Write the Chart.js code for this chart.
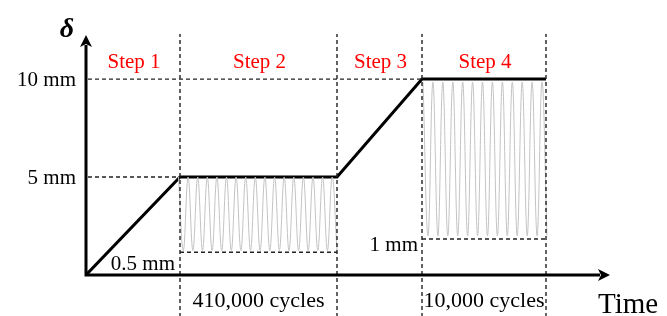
<!DOCTYPE html>
<html>
<head>
<meta charset="utf-8">
<script src="https://cdn.jsdelivr.net/npm/chart.js@4.4.1/dist/chart.umd.min.js"></script>
<style>
    body { margin: 0; background: #fff; }
    #box { width: 667px; height: 316px; }
</style>
</head>
<body>
<div id="box"><canvas id="myChart"></canvas></div>
<script>
// tempo em unidades arbitrarias, deslocamento em mm (esquema, fora de escala)
let stepLabels = ["Step 1", "Step 2", "Step 3", "Step 4"];
let stepEnds = [94, 251, 336, 460];
let pathTime = [0, 94, 251, 336, 460];
let pathDisp = [0, 5, 5, 10, 10];
let yTicks = [5, 10];
let yTickLabels = ["5 mm", "10 mm"];
let cycleLabels = ["410,000 cycles", "10,000 cycles"];
let lowLabels = ["0.5 mm", "1 mm"];
let lowLevels = [1.16, 1.84];

let cyc1Time = [92.5, 97.3, 102.1, 106.9, 111.7, 116.5, 121.3, 126.1, 130.9, 135.7,
    140.5, 145.3, 150.1, 154.9, 159.7, 164.5, 169.3, 174.1, 178.9, 183.8,
    188.6, 193.4, 198.2, 203.0, 207.8, 212.6, 217.4, 222.2, 227.0, 231.8,
    236.6, 241.4, 246.2, 251.0];
let cyc1Disp = [5, 1.25, 5, 1.25, 5, 1.25, 5, 1.25, 5, 1.25,
    5, 1.25, 5, 1.25, 5, 1.25, 5, 1.25, 5, 1.25,
    5, 1.25, 5, 1.25, 5, 1.25, 5, 1.25, 5, 1.25,
    5, 1.25, 5, 1.25];

let cyc2Time = [337.0, 342.0, 346.9, 351.9, 356.8, 361.8, 366.8, 371.7, 376.7, 381.6,
    386.6, 391.6, 396.5, 401.5, 406.4, 411.4, 416.4, 421.3, 426.3, 431.2,
    436.2, 441.2, 446.1, 451.1, 456.0, 461.0];
let cyc2Disp = [9.85, 2.0, 9.85, 2.0, 9.85, 2.0, 9.85, 2.0, 9.85, 2.0,
    9.85, 2.0, 9.85, 2.0, 9.85, 2.0, 9.85, 2.0, 9.85, 2.0,
    9.85, 2.0, 9.85, 2.0, 9.85, 2.0];

const serif = "'Liberation Serif', 'Times New Roman', serif";

function pontos(xs, ys) {
    let lista = [];
    for (let i = 0; i < xs.length; i++) {
        lista.push({ x: xs[i], y: ys[i] });
    }
    return lista;
}

function tracejada(x1, y1, x2, y2) {
    return {
        data: [{ x: x1, y: y1 }, { x: x2, y: y2 }],
        borderColor: "#222",
        borderWidth: 1.4,
        borderDash: [4, 3],
        pointRadius: 0,
        tension: 0,
        clip: false,
    };
}

let datasets = [];
// linhas guia
datasets.push(tracejada(2, 10, stepEnds[2], 10));
datasets.push(tracejada(2, 5, stepEnds[0], 5));
datasets.push(tracejada(stepEnds[0], lowLevels[0], stepEnds[1], lowLevels[0]));
datasets.push(tracejada(stepEnds[2], lowLevels[1], stepEnds[3], lowLevels[1]));
for (let i = 0; i < stepEnds.length; i++) {
    datasets.push(tracejada(stepEnds[i], -2.15, stepEnds[i], 12.3));
}
// ciclos
datasets.push({
    data: pontos(cyc1Time, cyc1Disp),
    borderColor: "rgb(195,195,195)",
    borderWidth: 1,
    pointRadius: 0,
    tension: 0.4,
});
datasets.push({
    data: pontos(cyc2Time, cyc2Disp),
    borderColor: "rgb(195,195,195)",
    borderWidth: 1,
    pointRadius: 0,
    tension: 0.4,
});
// trajetoria principal
datasets.push({
    data: pontos(pathTime, pathDisp),
    borderColor: "#000",
    borderWidth: 3,
    pointRadius: 0,
    tension: 0,
});

function seta(ctx, tx, ty, dx, dy) {
    // ponta em (tx, ty), direcao (dx, dy)
    let px = -dy, py = dx;
    ctx.beginPath();
    ctx.moveTo(tx, ty);
    ctx.lineTo(tx - dx * 12 + px * 6, ty - dy * 12 + py * 6);
    ctx.lineTo(tx - dx * 9, ty - dy * 9);
    ctx.lineTo(tx - dx * 12 - px * 6, ty - dy * 12 - py * 6);
    ctx.closePath();
    ctx.fill();
}

const desenho = {
    id: "desenho",
    afterDatasetsDraw(chart) {
        const ctx = chart.ctx;
        const xs = chart.scales.x;
        const ys = chart.scales.y;
        const area = chart.chartArea;
        let x0 = xs.getPixelForValue(0);
        let y0 = ys.getPixelForValue(0);

        ctx.save();
        ctx.strokeStyle = "#000";
        ctx.fillStyle = "#000";
        ctx.lineWidth = 3;
        ctx.beginPath();
        ctx.moveTo(x0, y0 + 1.5);
        ctx.lineTo(x0, area.top + 10);
        ctx.moveTo(x0 - 1.5, y0);
        ctx.lineTo(area.right - 10, y0);
        ctx.stroke();
        seta(ctx, x0, area.top, 0, -1);
        seta(ctx, area.right, y0, 1, 0);

        // rotulos do eixo y
        ctx.font = "21px " + serif;
        ctx.textAlign = "right";
        ctx.textBaseline = "alphabetic";
        for (let i = 0; i < yTicks.length; i++) {
            ctx.fillText(yTickLabels[i], x0 - 10, ys.getPixelForValue(yTicks[i]) + 7);
        }
        ctx.fillText(lowLabels[0], xs.getPixelForValue(stepEnds[0]) - 5, y0 - 5);
        ctx.fillText(lowLabels[1], xs.getPixelForValue(stepEnds[2]) - 4, ys.getPixelForValue(lowLevels[1]) + 12);

        // passos
        ctx.fillStyle = "#ff0000";
        ctx.textAlign = "center";
        let inicio = 0;
        for (let i = 0; i < stepLabels.length; i++) {
            let cx = (xs.getPixelForValue(inicio) + xs.getPixelForValue(stepEnds[i])) / 2;
            ctx.fillText(stepLabels[i], cx + 1, 68);
            inicio = stepEnds[i];
        }

        // ciclos
        ctx.fillStyle = "#000";
        ctx.font = "22px " + serif;
        ctx.fillText(cycleLabels[0], (xs.getPixelForValue(stepEnds[0]) + xs.getPixelForValue(stepEnds[1])) / 2, y0 + 32);
        ctx.fillText(cycleLabels[1], (xs.getPixelForValue(stepEnds[2]) + xs.getPixelForValue(stepEnds[3])) / 2, y0 + 32);

        // titulos dos eixos
        ctx.textAlign = "left";
        ctx.font = "29px " + serif;
        ctx.fillText("Time", area.right - 12, y0 + 38);
        ctx.textAlign = "center";
        ctx.font = "bold italic 28px " + serif;
        ctx.fillText("δ", x0 - 19, area.top + 2);
        ctx.restore();
    }
};

const config = {
    type: "line",
    data: { datasets: datasets },
    options: {
        responsive: true,
        maintainAspectRatio: false,
        animation: false,
        devicePixelRatio: 1,
        layout: { padding: { left: 86, right: 57, top: 35, bottom: 41 } },
        plugins: {
            legend: { display: false },
            tooltip: { enabled: false },
        },
        scales: {
            x: { type: "linear", min: 0, max: 524, display: false },
            y: { type: "linear", min: 0, max: 12.25, display: false },
        },
    },
    plugins: [desenho],
};

const myChart = new Chart(document.getElementById("myChart").getContext("2d"), config);
</script>
</body>
</html>
